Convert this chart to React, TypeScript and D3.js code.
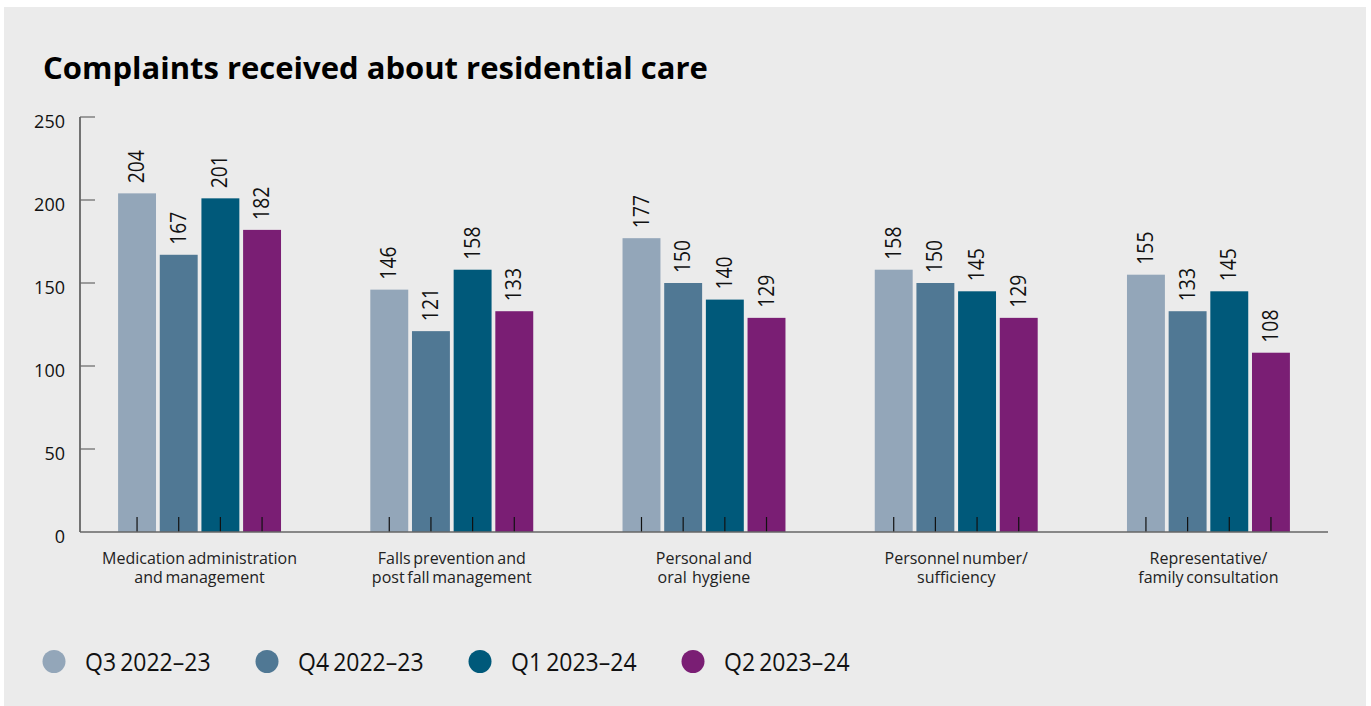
import React from "react";
import * as d3 from "d3";

const categories = [
  ["Medication administration", "and management"],
  ["Falls prevention and", "post fall management"],
  ["Personal and", "oral  hygiene"],
  ["Personnel number/", "sufficiency"],
  ["Representative/", "family consultation"],
];
const seriesNames = ["Q3 2022–23", "Q4 2022–23", "Q1 2023–24", "Q2 2023–24"];
const q3_2022 = [204, 146, 177, 158, 155];
const q4_2022 = [167, 121, 150, 150, 133];
const q1_2023 = [201, 158, 140, 145, 145];
const q2_2023 = [182, 133, 129, 129, 108];
const yTicks = [0, 50, 100, 150, 200, 250];
const colors = ["#93a6b9", "#507894", "#00597a", "#7a1e74"];

const seriesValues = [q3_2022, q4_2022, q1_2023, q2_2023];

export default function App() {
  const W = 1371;
  const H = 706;
  const axisX = 80;
  const axisRight = 1328;
  const y0 = 532;
  const yTop = 117;

  const y = d3.scaleLinear().domain([0, 250]).range([y0, yTop]);
  const catKeys = categories.map((c) => c.join(" "));
  const x0 = d3
    .scaleBand<string>()
    .domain(catKeys)
    .range([axisX, axisRight])
    .paddingInner(0.354)
    .paddingOuter(0.151);
  const x1 = d3
    .scaleBand<string>()
    .domain(seriesNames)
    .range([0, x0.bandwidth()])
    .paddingInner(0.09)
    .paddingOuter(0);

  const font = "'Open Sans', 'Noto Sans', sans-serif";

  return (
    <svg
      width={W}
      height={H}
      style={{ position: "absolute", left: 0, top: 0, fontFamily: font }}
    >
      <rect x={0} y={0} width={W} height={H} fill="#ffffff" />
      <rect x={4} y={7} width={1362} height={H - 7} fill="#ebebeb" />
      <text x={43} y={79} fontSize={31} fontWeight={700} fill="#000">
        Complaints received about residential care
      </text>

      {/* y axis */}
      <line x1={axisX} x2={axisX} y1={yTop} y2={y0} stroke="#222" strokeWidth={1.2} />
      {yTicks.map((t) => (
        <g key={t}>
          {t > 0 && (
            <line x1={axisX} x2={axisX + 15} y1={y(t)} y2={y(t)} stroke="#666" strokeWidth={1.2} />
          )}
          <text x={65} y={y(t) + 4.5} dy="0.36em" textAnchor="end" fontSize={18} fill="#111">
            {t}
          </text>
        </g>
      ))}

      {/* bars */}
      {catKeys.map((ck, ci) => (
        <g key={ck} transform={`translate(${x0(ck)},0)`}>
          {seriesNames.map((s, si) => {
            const v = seriesValues[si][ci];
            const bx = x1(s)!;
            const bw = x1.bandwidth();
            const cx = bx + bw / 2;
            return (
              <g key={s}>
                <rect x={bx} y={y(v)} width={bw} height={y0 - y(v)} fill={colors[si]} />
                <line x1={cx} x2={cx} y1={y0 - 15} y2={y0} stroke="#111" strokeWidth={1.2} />
                <text
                  transform={`translate(${cx + 1},${y(v) - 10}) rotate(-90) scale(0.86,1)`}
                  dominantBaseline="middle"
                  textAnchor="start"
                  fontSize={22.5}
                  fill="#111"
                >
                  {v}
                </text>
              </g>
            );
          })}
          {categories[ci].map((line, li) => (
            <text
              key={li}
              x={x0.bandwidth() / 2}
              y={564 + li * 18.5}
              textAnchor="middle"
              fontSize={16}
              fill="#222"
              style={{ whiteSpace: "pre", wordSpacing: "-1.5px" }}
            >
              {line}
            </text>
          ))}
        </g>
      ))}

      {/* baseline */}
      <line x1={axisX} x2={axisRight} y1={y0} y2={y0} stroke="#666" strokeWidth={1.5} />

      {/* legend */}
      {seriesNames.map((s, i) => {
        const lx = 54 + i * 213;
        return (
          <g key={s}>
            <circle cx={lx} cy={661.5} r={11.5} fill={colors[i]} />
            <text
              transform={`translate(${lx + 31},${661.5}) scale(0.92,1)`}
              dy="0.36em"
              fontSize={25}
              fill="#111"
              style={{ wordSpacing: "-2px" }}
            >
              {s}
            </text>
          </g>
        );
      })}
    </svg>
  );
}
